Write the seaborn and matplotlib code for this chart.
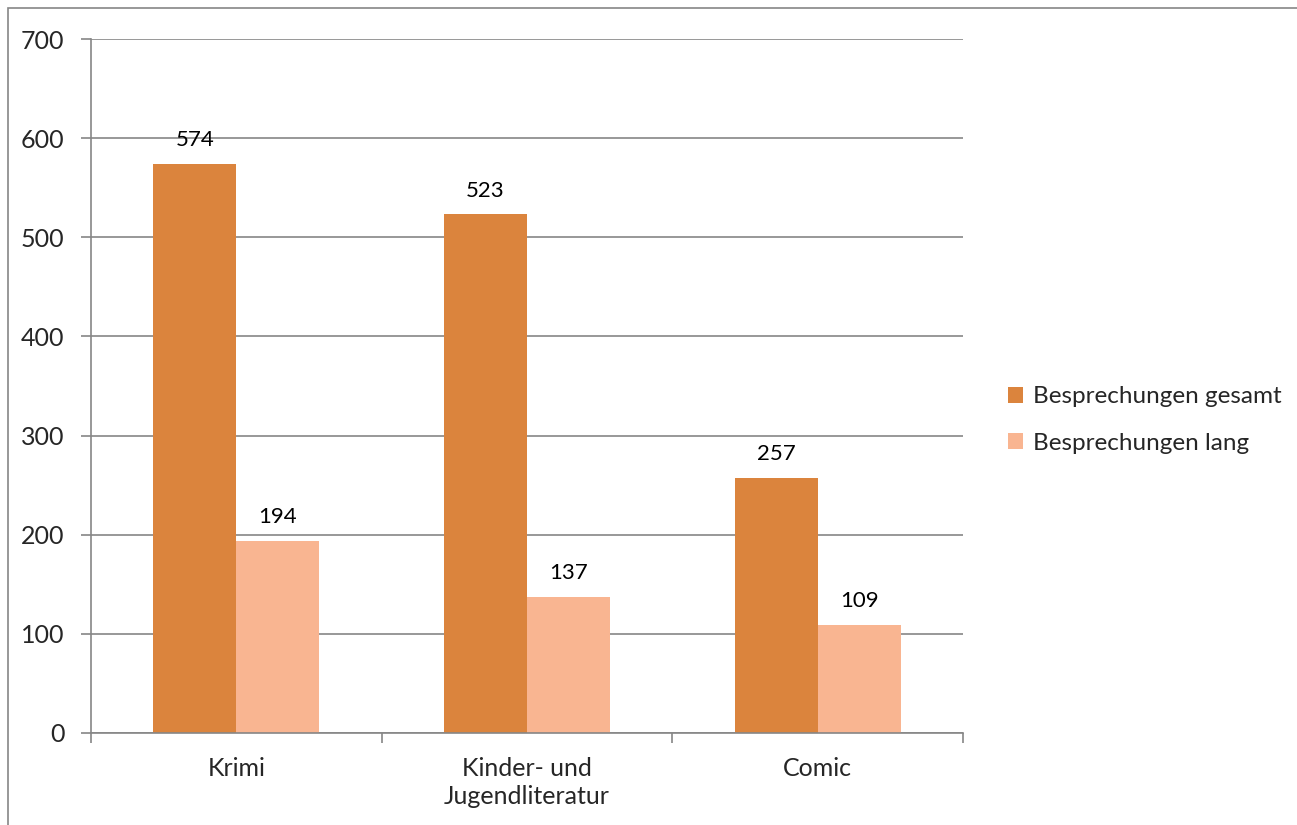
import matplotlib
matplotlib.use("Agg")
import matplotlib.pyplot as plt
import seaborn as sns
import pandas as pd
from matplotlib.patches import Rectangle, Patch
from matplotlib.ticker import FixedLocator

categories = ["Krimi", "Kinder- und\nJugendliteratur", "Comic"]
series_names = ["Besprechungen gesamt", "Besprechungen lang"]
gesamt = [574, 523, 257]
lang = [194, 137, 109]
colors = ["#DB843D", "#F9B591"]

df = pd.DataFrame({
    "Kategorie": categories * 2,
    "Serie": [series_names[0]] * 3 + [series_names[1]] * 3,
    "Wert": gesamt + lang,
})

sns.set_theme(style="white")
plt.rcParams["font.family"] = ["Lato", "DejaVu Sans"]

fig = plt.figure(figsize=(12.97, 8.25), dpi=100)
ax = fig.add_axes([91/1297, 92/825, (963-91)/1297, (733-39)/825])

sns.barplot(data=df, x="Kategorie", y="Wert", hue="Serie", order=categories,
            hue_order=series_names, palette=colors, width=0.5714, gap=0,
            dodge=True, ax=ax, legend=False, saturation=1, linewidth=0)

for cont in ax.containers:
    ax.bar_label(cont, padding=10, fontsize=16, color="black")

ax.set_ylim(0, 700)
ax.set_xlim(-0.5, 2.5)
ax.set_yticks(range(0, 701, 100))
ax.yaxis.grid(True, color="#868686", linewidth=1.2)
ax.set_axisbelow(True)
ax.set_xlabel("")
ax.set_ylabel("")

gray = "#868686"
for s in ["top", "right"]:
    ax.spines[s].set_visible(False)
for s in ["left", "bottom"]:
    ax.spines[s].set_color(gray)
    ax.spines[s].set_linewidth(1.2)

ax.tick_params(axis="y", which="major", length=7, width=1.2, color=gray,
               labelsize=18, pad=12, left=True)
ax.set_xticks([0, 1, 2])
ax.set_xticklabels(categories, linespacing=1.3)
ax.tick_params(axis="x", which="major", length=0, labelsize=18, pad=17)
ax.xaxis.set_minor_locator(FixedLocator([-0.5, 0.5, 1.5, 2.5]))
ax.tick_params(axis="x", which="minor", length=7, width=1.2, color=gray, bottom=True)

handles = [Patch(facecolor=c, edgecolor="none") for c in colors]
fig.legend(handles, series_names, loc="center left",
           bbox_to_anchor=(986/1297, 1 - 420/825), frameon=False,
           fontsize=17.5, handlelength=0.62, handleheight=0.62,
           handletextpad=0.4, labelspacing=1.05)

fig.patches.append(Rectangle((8/1297, -0.1), 1.2, 1.1 - 8/825,
                             transform=fig.transFigure, fill=False,
                             edgecolor=gray, linewidth=1.2, figure=fig))

fig.savefig("out.png", dpi=100)
